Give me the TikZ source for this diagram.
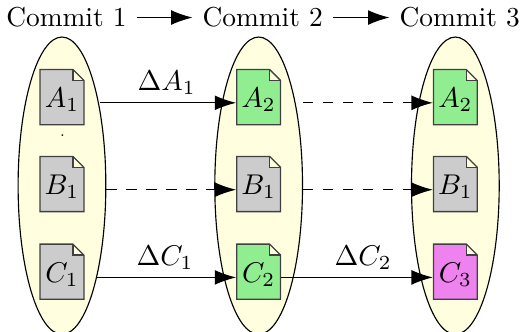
\documentclass[tikz,border=0pt]{standalone}
\usepackage{xcolor}
\usetikzlibrary{arrows.meta,positioning,shapes.geometric}
\definecolor{filegrey}{HTML}{CCCCCC}
\definecolor{filegreen}{HTML}{90EE90}
\definecolor{filepink}{HTML}{EE82EE}
\definecolor{bagyellow}{HTML}{FFFFE0}
\def\filew{0.27}
\def\fold{0.135}
\tikzset{
  bag/.style={ellipse, draw=black, fill=bagyellow, minimum width=1.08cm, minimum height=3.66cm, inner sep=0pt},
  commitlabel/.style={font=\fontsize{9.6}{11}\selectfont},
  filetext/.style={minimum width=0.54cm, text height=6.8pt, text depth=3.5pt, inner sep=0pt},
  fileline/.style={draw=black!75, line width=0.45pt},
  arr/.style={-{Latex[length=7.5pt,width=5.2pt]}, draw=black},
  darr/.style={arr, dashed, dash pattern=on 3.6pt off 3.4pt},
  delta/.style={above=-0.7pt},
}
% file with a folded corner, the name sits on the text
\newcommand{\filenode}[4]{%
  \fill[fill=#3] ([shift={(-\filew,0.41)}]#2) -- ([shift={(\filew-\fold,0.41)}]#2)
    -- ([shift={(\filew-\fold,0.41-\fold)}]#2) -- ([shift={(\filew,0.41-\fold)}]#2)
    -- ([shift={(\filew,-0.27)}]#2) -- ([shift={(-\filew,-0.27)}]#2) -- cycle;
  \draw[fileline] ([shift={(-\filew,0.41)}]#2) -- ([shift={(\filew-\fold,0.41)}]#2)
    -- ([shift={(\filew,0.41-\fold)}]#2) -- ([shift={(\filew,-0.27)}]#2)
    -- ([shift={(-\filew,-0.27)}]#2) -- cycle;
  \draw[fileline] ([shift={(\filew-\fold,0.41)}]#2) -- ([shift={(\filew-\fold,0.41-\fold)}]#2)
    -- ([shift={(\filew,0.41-\fold)}]#2);
  \node[filetext] (#1) at (#2) {$#4$};
}
\begin{document}
\begin{tikzpicture}
  \useasboundingbox[fill=white] (0,0) rectangle (6.44,4.076);
  % the commits
  \node (bag1) [bag] at (0.763,1.79) {};
  \node (bag2) [bag] at (3.185,1.79) {};
  \node (bag3) [bag] at (5.607,1.79) {};
  \node (commit1) [commitlabel] at (0.818,3.86) {Commit 1};
  \node (commit2) [commitlabel] at (3.235,3.86) {Commit 2};
  \node (commit3) [commitlabel] at (5.66,3.86) {Commit 3};
  \draw[arr] (commit1) -- (commit2);
  \draw[arr] (commit2) -- (commit3);
  % files
  \foreach \col/\x in {1/0.763, 2/3.185, 3/5.607} {
    \coordinate (a\col) at (\x,2.81);
    \coordinate (b\col) at (\x,1.74);
    \coordinate (c\col) at (\x,0.66);
  }
  \filenode{A1}{a1}{filegrey}{A_1}
  \filenode{B1}{b1}{filegrey}{B_1}
  \filenode{C1}{c1}{filegrey}{C_1}
  \filenode{A2}{a2}{filegreen}{A_2}
  \filenode{B2}{b2}{filegrey}{B_1}
  \filenode{C2}{c2}{filegreen}{C_2}
  \filenode{A3}{a3}{filegreen}{A_2}
  \filenode{B3}{b3}{filegrey}{B_1}
  \filenode{C3}{c3}{filepink}{C_3}
  \node (speck) [font=\tiny, inner sep=0pt] at (0.77,2.4) {.};
  % the lines leave at the rim of the commit
  \coordinate (A1out) at (1.231,2.81);
  \coordinate (C1out) at (1.19,0.66);
  \coordinate (B1out) at (bag1.east |- B1);
  \coordinate (A2out) at (bag2.east |- A2);
  \coordinate (B2out) at (bag2.east |- B2);
  % changes
  \draw[arr] (A1out) -- node[delta, pos=0.49] (dA1) {$\Delta A_1$} (A2);
  \draw[darr] (A2out) -- (A3);
  \draw[darr] (B1out) -- (B2);
  \draw[darr] (B2out) -- (B3);
  \draw[arr] (C1out) -- node[delta, pos=0.49] (dC1) {$\Delta C_1$} (C2);
  \draw[arr] (C2) -- node[delta, pos=0.54] (dC2) {$\Delta C_2$} (C3);
\end{tikzpicture}
\end{document}
